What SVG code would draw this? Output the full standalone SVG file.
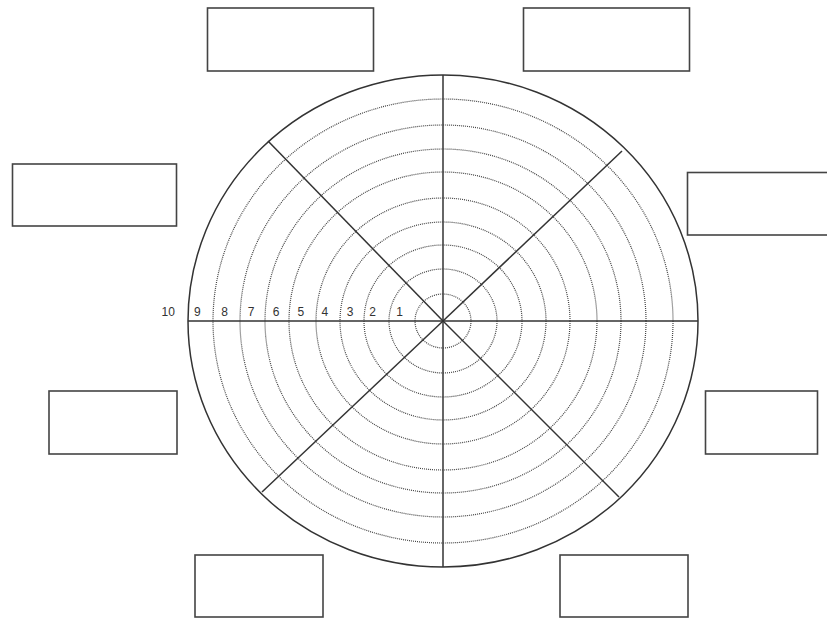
<svg xmlns="http://www.w3.org/2000/svg" width="827" height="618" viewBox="0 0 827 618">
<style>
.box{fill:#fff;stroke:#444;stroke-width:1.6}
.outer{fill:none;stroke:#333;stroke-width:1.5}
.ring{fill:none;stroke:#444;stroke-width:1.2;stroke-dasharray:1 1}
.spoke{stroke:#333;stroke-width:1.5}
.num{font-family:"Liberation Sans",Arial,sans-serif;font-size:12px;fill:#333;text-anchor:middle}
</style>
<rect width="827" height="618" fill="#fff"/>
<g id="box-top-left"><rect class="box" x="207.5" y="8" width="166" height="63"/></g>
<g id="box-top-right"><rect class="box" x="523.5" y="8" width="166" height="63"/></g>
<g id="box-left"><rect class="box" x="12.5" y="164" width="164" height="62"/></g>
<g id="box-right"><rect class="box" x="687.5" y="172.5" width="145" height="62.5"/></g>
<g id="box-left-lower"><rect class="box" x="49" y="391" width="128" height="63"/></g>
<g id="box-right-lower"><rect class="box" x="705.5" y="391" width="112" height="63"/></g>
<g id="box-bottom-left"><rect class="box" x="195" y="555" width="128" height="62"/></g>
<g id="box-bottom-right"><rect class="box" x="560" y="555" width="128" height="62"/></g>
<g id="wheel">
<g id="rings">
<ellipse class="ring" cx="443" cy="321" rx="230" ry="222"/>
<ellipse class="ring" cx="443" cy="321" rx="203" ry="196"/>
<ellipse class="ring" cx="443" cy="321" rx="178" ry="172"/>
<ellipse class="ring" cx="443" cy="321" rx="154" ry="149"/>
<ellipse class="ring" cx="443" cy="321" rx="127" ry="123"/>
<ellipse class="ring" cx="443" cy="321" rx="103" ry="99"/>
<ellipse class="ring" cx="443" cy="321" rx="79" ry="76"/>
<ellipse class="ring" cx="443" cy="321" rx="54" ry="52"/>
<ellipse class="ring" cx="443" cy="321" rx="28" ry="27"/>
</g>
<ellipse class="outer" cx="443" cy="321" rx="255" ry="246"/>
<g id="spokes">
<line class="spoke" x1="443" y1="75" x2="443" y2="567"/>
<line class="spoke" x1="188" y1="321" x2="698" y2="321"/>
<line class="spoke" x1="443" y1="321" x2="268" y2="141"/>
<line class="spoke" x1="443" y1="321" x2="622" y2="151"/>
<line class="spoke" x1="443" y1="321" x2="262" y2="492"/>
<line class="spoke" x1="443" y1="321" x2="619" y2="497"/>
</g>
<g id="scale">
<text class="num" x="168.3" y="316">10</text>
<text class="num" x="197.3" y="316">9</text>
<text class="num" x="224.5" y="316">8</text>
<text class="num" x="251.2" y="316">7</text>
<text class="num" x="276.2" y="316">6</text>
<text class="num" x="300.8" y="316">5</text>
<text class="num" x="324.8" y="316">4</text>
<text class="num" x="350" y="316">3</text>
<text class="num" x="372.5" y="316">2</text>
<text class="num" x="399.5" y="316">1</text>
</g>
</g>
</svg>
